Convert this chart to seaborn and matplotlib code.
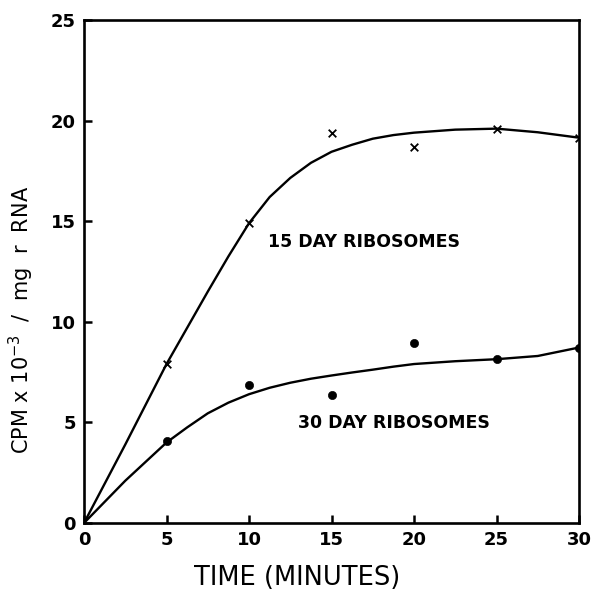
import matplotlib
matplotlib.use("Agg")
import matplotlib.pyplot as plt
import seaborn as sns
import pandas as pd

# measured points
time_pts = [5, 10, 15, 20, 25, 30]
day15_pts = [7.9, 14.9, 19.4, 18.7, 19.6, 19.15]
day30_pts = [4.05, 6.85, 6.37, 8.94, 8.14, 8.72]

# hand-drawn fitted curves
curve_time = [0, 2.5, 5, 6.25, 7.5, 8.75, 10, 11.25, 12.5, 13.75, 15, 16.25,
              17.5, 18.75, 20, 22.5, 25, 27.5, 30]
day15_curve = [0, 3.9, 7.9, 9.7, 11.5, 13.25, 14.9, 16.2, 17.15, 17.9, 18.45,
               18.8, 19.1, 19.28, 19.4, 19.55, 19.6, 19.42, 19.15]
day30_curve = [0, 2.1, 4.0, 4.75, 5.45, 5.98, 6.4, 6.72, 6.97, 7.17, 7.33, 7.48,
               7.62, 7.77, 7.9, 8.04, 8.14, 8.3, 8.72]

x_ticks = [0, 5, 10, 15, 20, 25, 30]
x_ticklabels = ["0", "5", "10", "15", "20", "25", "30"]
y_ticks = [0, 5, 10, 15, 20, 25]
y_ticklabels = ["0", "5", "10", "15", "20", "25"]

sns.set_style("ticks")
plt.rcParams['font.family'] = ['DejaVu Sans']
plt.rcParams['text.color'] = 'black'
plt.rcParams['axes.labelcolor'] = 'black'
plt.rcParams['xtick.color'] = 'black'
plt.rcParams['ytick.color'] = 'black'

fig = plt.figure(figsize=(5.93, 5.90), dpi=100)
ax = fig.add_axes([0.1417, 0.1136, 0.8347, 0.8525])

curves = pd.DataFrame({"t": curve_time * 2,
                       "v": day15_curve + day30_curve,
                       "s": ["15"] * len(curve_time) + ["30"] * len(curve_time)})
sns.lineplot(data=curves, x="t", y="v", units="s", estimator=None,
             color="black", linewidth=1.7, ax=ax, legend=False)
sns.scatterplot(x=time_pts, y=day15_pts, marker="x", color="black", s=30,
                linewidth=1.3, ax=ax, zorder=5)
sns.scatterplot(x=time_pts, y=day30_pts, marker="o", color="black", s=35,
                edgecolor="black", ax=ax, zorder=5)

ax.set_xlim(0, 30)
ax.set_ylim(0, 25)
ax.set_xticks(x_ticks)
ax.set_xticklabels(x_ticklabels, fontsize=13, fontweight="bold")
ax.set_yticks(y_ticks)
ax.set_yticklabels(y_ticklabels, fontsize=13, fontweight="bold")
ax.tick_params(direction="in", length=6, width=1.8, pad=6, colors="black")
for sp in ax.spines.values():
    sp.set_linewidth(1.9)
    sp.set_visible(True)
    sp.set_color("black")

ax.set_xlabel("TIME (MINUTES)", fontsize=18.5, color="black")
ax.xaxis.set_label_coords(0.43, -0.083)
ax.set_ylabel(r"CPM x 10$^{-3}$  /  mg  r  RNA", fontsize=15, color="black")
ax.yaxis.set_label_coords(-0.097, 0.404)

ax.text(11.15, 13.98, "15 DAY RIBOSOMES", fontsize=12.5, fontweight="bold",
        va="center", ha="left", color="black")
ax.text(12.97, 4.97, "30 DAY RIBOSOMES", fontsize=12.5, fontweight="bold",
        va="center", ha="left", color="black")

fig.savefig("out.png", dpi=100)
